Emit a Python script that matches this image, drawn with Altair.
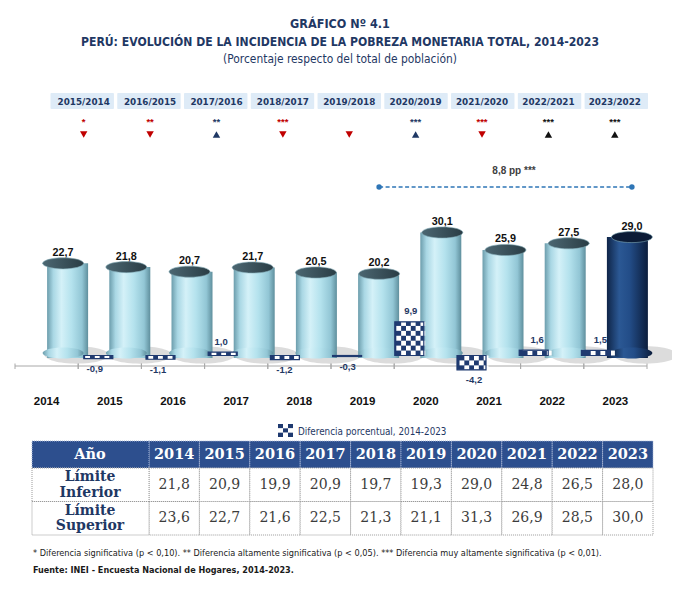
import altair as alt
import pandas as pd

# ---------------- data ----------------
anios = [2014, 2015, 2016, 2017, 2018, 2019, 2020, 2021, 2022, 2023]
pobreza = [22.7, 21.8, 20.7, 21.7, 20.5, 20.2, 30.1, 25.9, 27.5, 29.0]

anios_dif = [2015, 2016, 2017, 2018, 2019, 2020, 2021, 2022, 2023]
diferencia = [-0.9, -1.1, 1.0, -1.2, -0.3, 9.9, -4.2, 1.6, 1.5]

periodos = ["2015/2014", "2016/2015", "2017/2016", "2018/2017", "2019/2018",
            "2020/2019", "2021/2020", "2022/2021", "2023/2022"]
significancia = ["*", "**", "**", "***", "", "***", "***", "***", "***"]
tipo_cambio = ["baja", "baja", "sube", "baja", "baja", "sube", "baja", "sube_r", "sube_r"]

limite_inferior = [21.8, 20.9, 19.9, 20.9, 19.7, 19.3, 29.0, 24.8, 26.5, 28.0]
limite_superior = [23.6, 22.7, 21.6, 22.5, 21.3, 21.1, 31.3, 26.9, 28.5, 30.0]
filas = ["Límite\nInferior", "Límite\nSuperior"]

titulo1 = "GRÁFICO Nº 4.1"
titulo2 = "PERÚ: EVOLUCIÓN DE LA INCIDENCIA DE LA POBREZA MONETARIA TOTAL, 2014-2023"
subtitulo = "(Porcentaje respecto del total de población)"
leyenda = "Diferencia porcentual, 2014-2023"
nota = ("* Diferencia significativa (p < 0,10). ** Diferencia altamente significativa (p < 0,05). "
        "*** Diferencia muy altamente significativa (p < 0,01).")
fuente = "Fuente: INEI - Encuesta Nacional de Hogares, 2014-2023."


def fmt(v):
    return f"{v:.1f}".replace(".", ",")


df_cyl = pd.DataFrame({"anio": anios, "pobreza": pobreza,
                       "etiqueta": [fmt(v) for v in pobreza]})
df_dif = pd.DataFrame({"anio": anios_dif, "dif": diferencia,
                       "etiqueta": [fmt(v) for v in diferencia]})
df_sig = pd.DataFrame({"periodo": periodos, "sig": significancia, "tipo": tipo_cambio})
cambio_total = pobreza[anios.index(2023)] - pobreza[anios.index(2019)]
df_span = pd.DataFrame({"inicio": [2019], "fin": [2023],
                        "etiqueta": [fmt(cambio_total) + " pp ***"]})
df_ends = pd.DataFrame({"anio": [2019, 2023]})
df_tab = pd.DataFrame({
    "anio": anios * 2,
    "fila": [filas[0]] * len(anios) + [filas[1]] * len(anios),
    "valor": limite_inferior + limite_superior,
})
df_tab["texto"] = [fmt(v) for v in df_tab["valor"]]
df_filas = pd.DataFrame({"fila": filas})

# ---------------- styles ----------------
NARROW = "Liberation Sans Narrow, Arial Narrow, DejaVu Sans Condensed, Liberation Sans, sans-serif"
ARIAL = "Liberation Sans, Arial, sans-serif"
VERD = "DejaVu Sans, Verdana, sans-serif"
SERIF = "DejaVu Serif, Cambria, serif"
NAVY = "#1F3864"
CHECK = "#1F3A70"
ELLIPSE = "M-1,0A1,0.27,0,1,0,1,0A1,0.27,0,1,0,-1,0Z"

GRAD_LIGHT = alt.LinearGradient(gradient="linear", x1=0, x2=1, y1=0, y2=0, stops=[
    alt.GradientStop(color="#6C9DAC", offset=0),
    alt.GradientStop(color="#A9D7E4", offset=0.15),
    alt.GradientStop(color="#D4F1F8", offset=0.35),
    alt.GradientStop(color="#B4E2ED", offset=0.6),
    alt.GradientStop(color="#92C6D5", offset=0.85),
    alt.GradientStop(color="#5F8F9D", offset=1)])
GRAD_NAVY = alt.LinearGradient(gradient="linear", x1=0, x2=1, y1=0, y2=0, stops=[
    alt.GradientStop(color="#0F2548", offset=0),
    alt.GradientStop(color="#2B5894", offset=0.3),
    alt.GradientStop(color="#234D88", offset=0.55),
    alt.GradientStop(color="#0C1E3D", offset=1)])
GRAD_TOP = alt.LinearGradient(gradient="linear", x1=0, x2=1, y1=0, y2=0, stops=[
    alt.GradientStop(color="#4C6772", offset=0),
    alt.GradientStop(color="#2A3D45", offset=1)])

XS = alt.Scale(domain=[2013.5, 2023.5], range=[7, 639], nice=False, zero=False)
YC = alt.Scale(domain=[0, 30], range=[350, 224.9], nice=False, zero=False)
YD = alt.Scale(domain=[0, 10], range=[347.5, 313.5], nice=False, zero=False)
XH = alt.Scale(domain=periodos, range=[42.5, 640], paddingInner=0.05, paddingOuter=0)
XT = alt.Scale(domain=[2013.5, 2023.5], range=[141, 645], nice=False, zero=False)
YT = alt.Scale(domain=filas, range=[460, 527], paddingInner=0, paddingOuter=0)

tipo_dom = ["baja", "sube", "sube_r"]
tipo_col = alt.Scale(domain=tipo_dom, range=["#C00000", NAVY, "#111111"])
tipo_shape = alt.Scale(domain=tipo_dom, range=["triangle-down", "triangle-up", "triangle-up"])

ONE = alt.Data(values=[{}])


def xa(field):
    return alt.X(field, scale=XS, axis=None)


layers = []

# ---------------- titles ----------------
for txt, yy, size, weight in [(titulo1, 16, 12.5, "bold"), (titulo2, 34, 12.1, "bold"),
                              (subtitulo, 51, 11.9, "normal")]:
    layers.append(alt.Chart(ONE).mark_text(text=txt, font=NARROW, fontSize=size,
                                           fontWeight=weight, color=NAVY,
                                           align="center", baseline="middle")
                  .encode(x=alt.value(332), y=alt.value(yy)))

# ---------------- header boxes and markers ----------------
layers.append(alt.Chart(df_sig).mark_bar(fill="#DEEBF7", cornerRadius=1)
              .encode(x=alt.X("periodo:N", scale=XH, axis=None),
                      y=alt.value(85), y2=alt.value(101)))
layers.append(alt.Chart(df_sig).mark_text(font=VERD, fontSize=8.8, fontWeight="bold",
                                          color=NAVY, baseline="middle")
              .encode(x=alt.X("periodo:N", scale=XH, axis=None), y=alt.value(93.5),
                      text="periodo:N"))
layers.append(alt.Chart(df_sig).mark_text(font=ARIAL, fontSize=9.5, fontWeight="bold",
                                          baseline="middle")
              .encode(x=alt.X("periodo:N", scale=XH, axis=None), y=alt.value(113.5),
                      text="sig:N",
                      color=alt.Color("tipo:N", scale=tipo_col, legend=None)))
layers.append(alt.Chart(df_sig).mark_point(filled=True, size=55, opacity=1)
              .encode(x=alt.X("periodo:N", scale=XH, axis=None), y=alt.value(126.5),
                      shape=alt.Shape("tipo:N", scale=tipo_shape, legend=None),
                      color=alt.Color("tipo:N", scale=tipo_col, legend=None)))

# ---------------- span annotation ----------------
layers.append(alt.Chart(df_span).mark_rule(color="#2E75B6", strokeWidth=1.4,
                                           strokeDash=[4, 2.5], xOffset=16.5, x2Offset=16.5)
              .encode(x=xa("inicio:Q"), x2="fin:Q", y=alt.value(179)))
layers.append(alt.Chart(df_ends).mark_point(filled=True, size=30, opacity=1,
                                            color="#2E75B6", xOffset=16.5)
              .encode(x=xa("anio:Q"), y=alt.value(179)))
layers.append(alt.Chart(df_span).transform_calculate(medio="(datum.inicio + datum.fin) / 2")
              .mark_text(font=ARIAL, fontSize=10, fontWeight="bold", color="#404040",
                         xOffset=25, baseline="middle")
              .encode(x=xa("medio:Q"), y=alt.value(163), text="etiqueta:N"))

# ---------------- cylinders ----------------
base_calc = {"base": "0"}
layers.append(alt.Chart(df_cyl).transform_calculate(**base_calc)
              .mark_point(shape=ELLIPSE, filled=True, size=64 ** 2, fill="#9A9A9A",
                          opacity=0.35, strokeWidth=0, xOffset=30, yOffset=-3)
              .encode(x=xa("anio:Q"), y=alt.Y("base:Q", scale=YC, axis=None)))
for cond, grad, top in [("datum.anio < 2023", GRAD_LIGHT, GRAD_TOP),
                        ("datum.anio == 2023", GRAD_NAVY, "#0B1B36")]:
    layers.append(alt.Chart(df_cyl).transform_filter(cond)
                  .mark_bar(width=41, xOffset=16.5, y2Offset=-5, fill=grad)
                  .encode(x=xa("anio:Q"), y=alt.Y("pobreza:Q", scale=YC, axis=None)))
    layers.append(alt.Chart(df_cyl).transform_filter(cond).transform_calculate(**base_calc)
                  .mark_point(shape=ELLIPSE, filled=True, size=41 ** 2, fill=grad,
                              opacity=1, strokeWidth=0, xOffset=16.5, yOffset=-5)
                  .encode(x=xa("anio:Q"), y=alt.Y("base:Q", scale=YC, axis=None)))
    layers.append(alt.Chart(df_cyl).transform_filter(cond)
                  .mark_point(shape=ELLIPSE, filled=True, size=41 ** 2, fill=top,
                              opacity=1, stroke="#7FA7B3", strokeWidth=0.6, xOffset=16.5)
                  .encode(x=xa("anio:Q"), y=alt.Y("pobreza:Q", scale=YC, axis=None)))
layers.append(alt.Chart(df_cyl).mark_text(font=ARIAL, fontSize=10.8, fontWeight="bold",
                                          color="#111111", xOffset=16.5, dy=-10.5,
                                          baseline="middle")
              .encode(x=xa("anio:Q"), y=alt.Y("pobreza:Q", scale=YC, axis=None),
                      text="etiqueta:N"))

# ---------------- axis ----------------
layers.append(alt.Chart(df_cyl)
              .transform_aggregate(a0="min(anio)", a1="max(anio)")
              .transform_calculate(x0="datum.a0 - 0.5", x1="datum.a1 + 0.5")
              .mark_rule(color="#A8A8A8", strokeWidth=1)
              .encode(x=xa("x0:Q"), x2="x1:Q", y=alt.value(358)))
layers.append(alt.Chart(df_cyl)
              .transform_calculate(lo="datum.anio - 0.5", hi="datum.anio + 0.5")
              .transform_fold(["lo", "hi"], as_=["k", "b"])
              .mark_rule(color="#A8A8A8", strokeWidth=1)
              .encode(x=xa("b:Q"), y=alt.value(355.5), y2=alt.value(361)))
layers.append(alt.Chart(df_cyl).mark_text(font=ARIAL, fontSize=11.5, fontWeight="bold",
                                          color="#111111", baseline="middle")
              .encode(x=xa("anio:Q"), y=alt.value(394), text=alt.Text("anio:N")))

# ---------------- difference bars (checkered) ----------------
layers.append(alt.Chart(df_dif).mark_bar(width=29, xOffset=-15, fill=CHECK)
              .encode(x=xa("anio:Q"), y=alt.Y("dif:Q", scale=YD, axis=None)))
layers.append(alt.Chart(df_dif)
              .transform_calculate(rs="sequence(0, max(1, ceil(abs(datum.dif) / 1.45)))",
                                   cs="sequence(0, 6)")
              .transform_flatten(["rs"], as_=["r"])
              .transform_flatten(["cs"], as_=["c"])
              .transform_filter("(datum.r + datum.c) % 2 == 1")
              .transform_calculate(s="datum.dif < 0 ? -1 : 1")
              .transform_calculate(y0="datum.s * datum.r * 1.45",
                                   y1="datum.s * min((datum.r + 1) * 1.45, abs(datum.dif))",
                                   x0="datum.anio - 0.4667 + datum.c * 0.07648")
              .transform_calculate(x1="datum.x0 + 0.07648")
              .mark_rect(fill="white")
              .encode(x=xa("x0:Q"), x2="x1:Q",
                      y=alt.Y("y0:Q", scale=YD, axis=None), y2="y1:Q"))
layers.append(alt.Chart(df_dif).mark_bar(width=29, xOffset=-15, fillOpacity=0,
                                         stroke=CHECK, strokeWidth=1.2)
              .encode(x=xa("anio:Q"), y=alt.Y("dif:Q", scale=YD, axis=None)))
for cond, dy in [("datum.dif >= 0", -10.5), ("datum.dif < 0", 10.5)]:
    layers.append(alt.Chart(df_dif).transform_filter(cond)
                  .mark_text(font=ARIAL, fontSize=9.5, fontWeight="bold", color=NAVY,
                             xOffset=-15, dy=dy, baseline="middle")
                  .encode(x=xa("anio:Q"), y=alt.Y("dif:Q", scale=YD, axis=None),
                          text="etiqueta:N"))

# ---------------- legend ----------------
layers.append(alt.Chart(alt.sequence(0, 9, as_="i"))
              .transform_calculate(r="floor(datum.i / 3)", c="datum.i % 3")
              .transform_calculate(r1="datum.r + 1", c1="datum.c + 1")
              .mark_rect()
              .encode(x=alt.X("c:Q", scale=alt.Scale(domain=[0, 3], range=[270, 285]), axis=None),
                      x2="c1:Q",
                      y=alt.Y("r:Q", scale=alt.Scale(domain=[0, 3], range=[416, 429]), axis=None),
                      y2="r1:Q",
                      fill=alt.condition("(datum.r + datum.c) % 2 == 0",
                                         alt.value(CHECK), alt.value("white"))))
layers.append(alt.Chart(ONE).mark_text(text=leyenda, font=NARROW, fontSize=9.8,
                                       color=NAVY, align="left", baseline="middle")
              .encode(x=alt.value(290), y=alt.value(423.5)))

# ---------------- table ----------------
layers.append(alt.Chart(df_cyl)
              .transform_calculate(x0="datum.anio - 0.5", x1="datum.anio + 0.5")
              .mark_rect(fill="#2D4F8E", stroke="#A9B8D8", strokeDash=[1, 1], strokeWidth=1)
              .encode(x=alt.X("x0:Q", scale=XT, axis=None), x2="x1:Q",
                      y=alt.value(433), y2=alt.value(460)))
layers.append(alt.Chart(ONE).mark_rect(fill="#2D4F8E", stroke="#A9B8D8",
                                       strokeDash=[1, 1], strokeWidth=1)
              .encode(x=alt.value(24), x2=alt.value(141), y=alt.value(433), y2=alt.value(460)))
layers.append(alt.Chart(df_tab)
              .transform_calculate(x0="datum.anio - 0.5", x1="datum.anio + 0.5")
              .mark_rect(fill="white", stroke="#9A9A9A", strokeDash=[1, 1], strokeWidth=1)
              .encode(x=alt.X("x0:Q", scale=XT, axis=None), x2="x1:Q",
                      y=alt.Y("fila:N", scale=YT, axis=None)))
layers.append(alt.Chart(df_filas).mark_rect(fill="white", stroke="#9A9A9A",
                                            strokeDash=[1, 1], strokeWidth=1)
              .encode(x=alt.value(24), x2=alt.value(141),
                      y=alt.Y("fila:N", scale=YT, axis=None)))
layers.append(alt.Chart(ONE).mark_text(text="Año", font=SERIF, fontSize=14.5,
                                       fontWeight="bold", color="white", baseline="middle")
              .encode(x=alt.value(82), y=alt.value(447)))
layers.append(alt.Chart(df_cyl).mark_text(font=SERIF, fontSize=14.5, fontWeight="bold",
                                          color="white", baseline="middle")
              .encode(x=alt.X("anio:Q", scale=XT, axis=None), y=alt.value(447),
                      text=alt.Text("anio:N")))
layers.append(alt.Chart(df_tab).mark_text(font=SERIF, fontSize=14, color="#3C3C3C",
                                          baseline="middle")
              .encode(x=alt.X("anio:Q", scale=XT, axis=None),
                      y=alt.Y("fila:N", scale=YT, axis=None), text="texto:N"))
layers.append(alt.Chart(df_filas).mark_text(font=SERIF, fontSize=14, fontWeight="bold",
                                            color=NAVY, lineBreak="\n", lineHeight=15.5,
                                            baseline="middle", dy=-7.5)
              .encode(x=alt.value(82), y=alt.Y("fila:N", scale=YT, axis=None),
                      text="fila:N"))

# ---------------- footnotes ----------------
layers.append(alt.Chart(ONE).mark_text(text=nota, font=NARROW, fontSize=9.1,
                                       color="#1A1A1A", align="left", baseline="middle")
              .encode(x=alt.value(25), y=alt.value(545)))
layers.append(alt.Chart(ONE).mark_text(text=fuente, font=NARROW, fontSize=9.0,
                                       fontWeight="bold", color="#1A1A1A",
                                       align="left", baseline="middle")
              .encode(x=alt.value(25), y=alt.value(562)))

chart = (alt.layer(*layers)
         .resolve_scale(x="independent", y="independent", color="independent",
                        shape="independent")
         .properties(width=664, height=573, padding=0,
                     autosize=alt.AutoSizeParams(type="none"), background="white")
         .configure_view(strokeWidth=0))

chart.save("out.html", embed_options={"renderer": "svg", "actions": False})
